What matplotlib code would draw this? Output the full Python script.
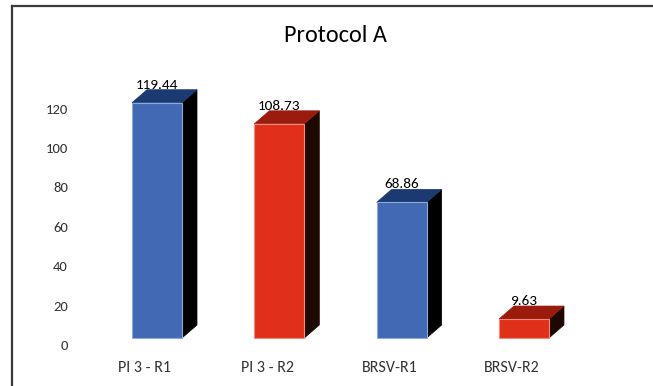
import matplotlib
matplotlib.use("Agg")
import matplotlib.pyplot as plt
from matplotlib.patches import Polygon
from matplotlib.lines import Line2D

# Chart data
categories = ["PI 3 - R1", "PI 3 - R2", "BRSV-R1", "BRSV-R2"]
values = [119.44, 108.73, 68.86, 9.63]
yticks = [0, 20, 40, 60, 80, 100, 120]
title = "Protocol A"

# Face colours per bar (front, top, right side, front outline)
front_colors = ["#4169B4", "#E1301A", "#4169B4", "#E1301A"]
top_colors = ["#1B3A72", "#9B1B0D", "#1B3A72", "#9B1B0D"]
side_colors = ["#000000", "#1E0900", "#000000", "#1E0900"]
edge_colors = ["#8EAADC", "#F28B7A", "#8EAADC", "#F28B7A"]

FONT = ["Carlito", "Lato", "DejaVu Sans"]

W_PX, H_PX, DPI = 653, 386, 100
fig = plt.figure(figsize=(W_PX / DPI, H_PX / DPI), dpi=DPI)
ax = fig.add_axes([0, 0, 1, 1])
ax.set_axis_off()

# Scale: category spacing and value-to-pixel factors
px_per_cat = 122.33
px_per_unit = 1.97
x0_px = 157.0      # centre of first bar
base_px = 48.0     # baseline height above bottom edge
ax.set_xlim(-x0_px / px_per_cat, (W_PX - x0_px) / px_per_cat)
ax.set_ylim(-base_px / px_per_unit, (H_PX - base_px) / px_per_unit)

bar_w = 50 / px_per_cat
dx = 15 / px_per_cat      # depth offset, horizontal
dy = 13 / px_per_unit     # depth offset, vertical

xs = list(range(len(categories)))

# Depth faces (side and top) for the 3-D look
for x, v, tc, sc in zip(xs, values, top_colors, side_colors):
    l, r = x - bar_w / 2, x + bar_w / 2
    side = Polygon([(r, 0), (r + dx, dy), (r + dx, v + dy), (r, v)],
                   closed=True, facecolor=sc, edgecolor=sc, lw=0.5, zorder=2)
    topf = Polygon([(l, v), (r, v), (r + dx, v + dy), (l + dx, v + dy)],
                   closed=True, facecolor=tc, edgecolor=tc, lw=0.5, zorder=2)
    ax.add_patch(side)
    ax.add_patch(topf)

# Front faces
ax.bar(xs, values, width=bar_w, color=front_colors, edgecolor=edge_colors,
       linewidth=0.8, zorder=3)

# Value labels above each bar
for x, v in zip(xs, values):
    ax.annotate(f"{v:.2f}", xy=(x, v), xytext=(0, 18), textcoords="offset pixels",
                ha="center", va="center", fontsize=11, family=FONT,
                color="#000000", zorder=5)

# Value axis labels
ytr = ax.get_yaxis_transform()
for t in yticks:
    ax.annotate(str(t), xy=(68 / W_PX, t), xycoords=ytr, xytext=(0, -8),
                textcoords="offset pixels", ha="right", va="center",
                fontsize=10.5, family=FONT, color="#333333")

# Category labels
for x, c in zip(xs, categories):
    ax.annotate(c, xy=(x, 0), xytext=(-12, -30), textcoords="offset pixels",
                ha="center", va="center", fontsize=11.5, family=FONT,
                color="#333333")

# Title
fig.text(335 / W_PX, 1 - 36 / H_PX, title, ha="center", va="center",
         fontsize=17.5, family=FONT, color="#000000")

# Chart border (top and left edges visible)
fig.add_artist(Line2D([12 / W_PX, 1.0], [1 - 6 / H_PX, 1 - 6 / H_PX],
                      transform=fig.transFigure, color="#3a3a3a", lw=1.6))
fig.add_artist(Line2D([12 / W_PX, 12 / W_PX], [0.0, 1 - 6 / H_PX],
                      transform=fig.transFigure, color="#3a3a3a", lw=1.6))

fig.savefig("out.png", dpi=DPI)
